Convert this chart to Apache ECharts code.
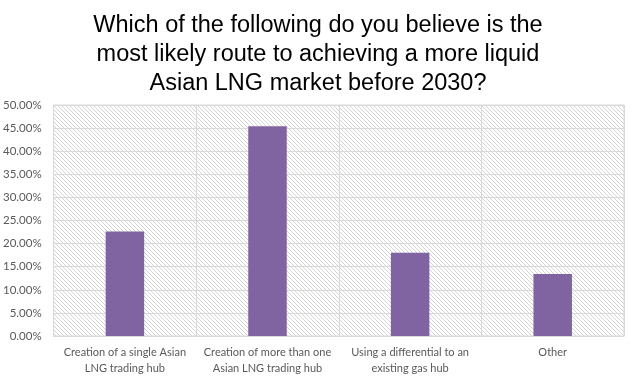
<!DOCTYPE html>
<html><head><meta charset="utf-8">
<script src="https://cdn.jsdelivr.net/npm/echarts@6/dist/echarts.min.js"></script>
<style>html,body{margin:0;padding:0;background:#fff}#c{width:636px;height:380px}</style>
</head><body><div id="c"></div>
<script>
const titleText = 'Which of the following do you believe is the\nmost likely route to achieving a more liquid\nAsian LNG market before 2030?';
const categories = ['Creation of a single Asian\nLNG trading hub', 'Creation of more than one\nAsian LNG trading hub', 'Using a differential to an\nexisting gas hub', 'Other'];
const values = [0.226, 0.454, 0.180, 0.134];
const yTicks = [0, 0.05, 0.10, 0.15, 0.20, 0.25, 0.30, 0.35, 0.40, 0.45, 0.50];

const pc = document.createElement('canvas');
pc.width = 4; pc.height = 4;
const g = pc.getContext('2d');
g.fillStyle = '#ffffff'; g.fillRect(0,0,4,4);
g.fillStyle = '#d4d4d4';
for (let i = 0; i < 4; i++) g.fillRect(i, i, 1, 1);

const chart = echarts.init(document.getElementById('c'));
chart.setOption({
  animation: false,
  title: {
    text: titleText, left: 'center', top: 6,
    textStyle: { fontFamily: 'Liberation Sans', fontSize: 23.5, fontWeight: 'normal', color: '#000', lineHeight: 29 }
  },
  grid: { left: 52, right: 12, top: 105, bottom: 44, show: true, borderColor: '#d9d9d9', borderWidth: 1,
    backgroundColor: { image: pc, repeat: 'repeat' } },
  xAxis: {
    type: 'category', data: categories,
    axisLine: { lineStyle: { color: '#d9d9d9' } },
    axisTick: { show: false },
    splitLine: { show: true, lineStyle: { color: '#d9d9d9', width: 1 } },
    axisLabel: { color: '#595959', fontFamily: 'Lato', fontSize: 11, lineHeight: 16, margin: 8, interval: 0 }
  },
  yAxis: {
    type: 'value', min: 0, max: 0.5, interval: 0.05,
    axisLine: { show: false }, axisTick: { show: false },
    splitLine: { lineStyle: { color: '#d9d9d9', width: 1 } },
    axisLabel: { color: '#595959', fontFamily: 'Lato', fontSize: 11.5, margin: 12,
      formatter: v => (v * 100).toFixed(2) + '%' }
  },
  series: [{ type: 'bar', data: values, barWidth: '27%', itemStyle: { color: '#8064a2' } }]
});
</script></body></html>
